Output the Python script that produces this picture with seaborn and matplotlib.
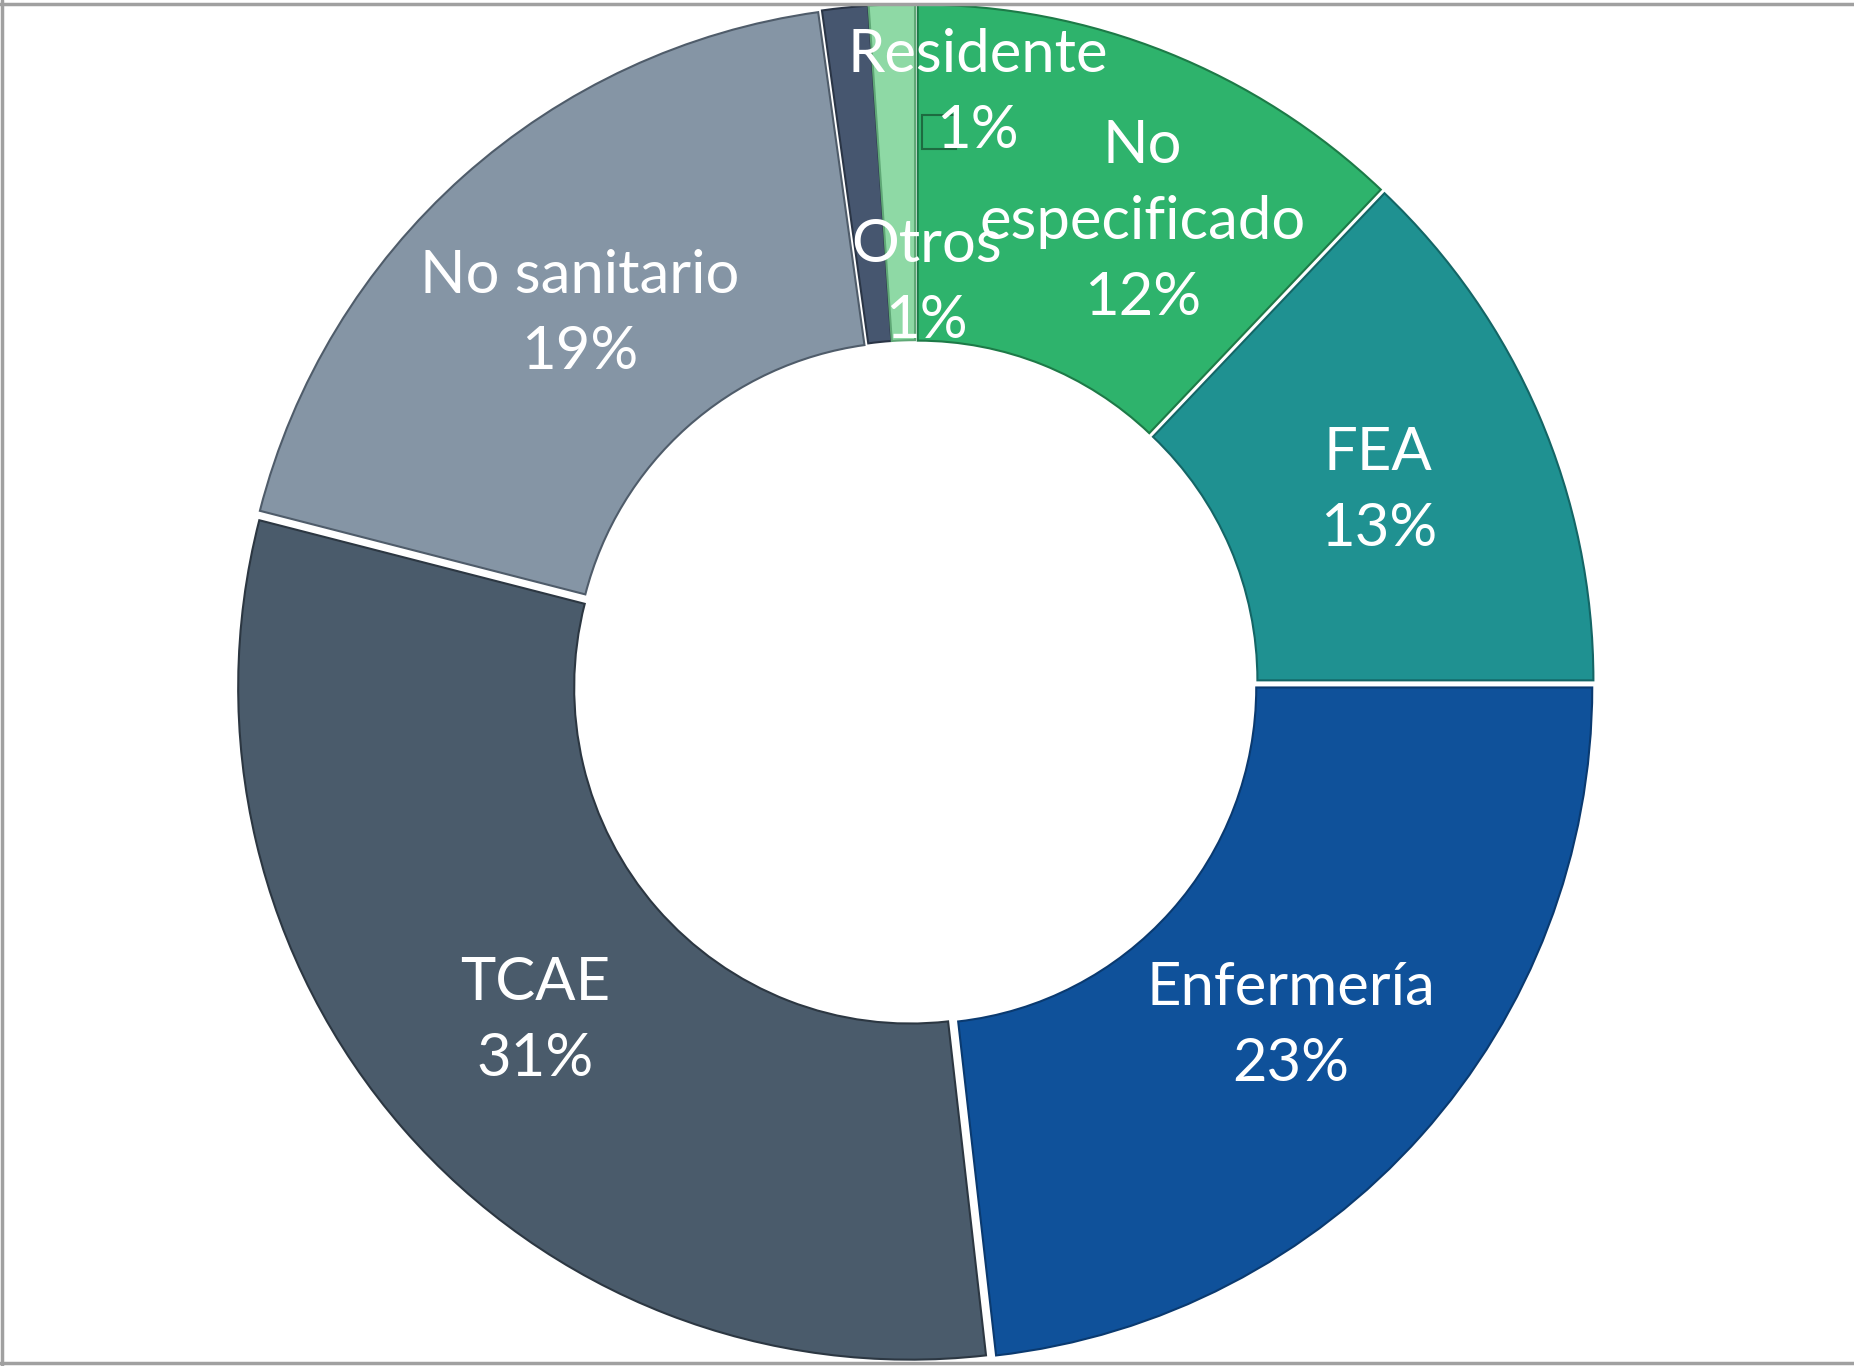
import numpy as np
import matplotlib
matplotlib.use("Agg")
import matplotlib.pyplot as plt
from matplotlib.lines import Line2D
from matplotlib.patches import Rectangle
import seaborn as sns

# categories in clockwise order from 12 o'clock
categories = ["No\nespecificado", "FEA", "Enfermería", "TCAE", "No sanitario", "Otros", "Residente"]
shares = [12.1, 12.9, 23.2, 30.8, 18.8, 1.1, 1.1]
pct_labels = ["12%", "13%", "23%", "31%", "19%", "1%", "1%"]

colors = ["#2EB36C", "#1F9191", "#0F519A", "#4A5B6B", "#8595A5", "#46566F", "#8ED9A5"]
edges = ["#1D7A47", "#146666", "#0A3A70", "#2C3742", "#4F5C6A", "#2A3546", "#5FA876"]

sns.set_theme(style="white")
plt.rcParams["font.family"] = ["Lato", "DejaVu Sans"]

fig = plt.figure(figsize=(18.54, 13.66), dpi=100)
ax = fig.add_axes([0, 0, 1, 1])

wedges, _ = ax.pie(shares, colors=colors, startangle=90, counterclock=False,
                   radius=1.0, explode=[0.01] * len(shares),
                   wedgeprops=dict(width=0.5, linewidth=1.5))
for w, ec in zip(wedges, edges):
    w.set_edgecolor(ec)

# label placement: mid-ring by default, a few moved by hand (as in the original)
label_shift = {0: (0.06, 0.0)}
manual_pos = {5: (0.017, 0.595), 6: (0.093, 0.878)}

for i, w in enumerate(wedges):
    txt = categories[i] + "\n" + pct_labels[i]
    if i in manual_pos:
        x, y = manual_pos[i]
    else:
        ang = np.deg2rad((w.theta1 + w.theta2) / 2)
        x, y = 0.75 * np.cos(ang), 0.75 * np.sin(ang) - 0.01
        if i in label_shift:
            x += label_shift[i][0]
            y += label_shift[i][1]
    ax.text(x, y, txt, ha="center", va="center", color="white",
            fontsize=43, linespacing=1.5, clip_on=False)

# little leftover leader box next to the "Residente" label
ax.add_patch(Rectangle((0.010, 0.795), 0.05, 0.05, facecolor="#2EB36C",
                       edgecolor="#1D6B40", linewidth=1.5, zorder=1.5))

ax.set_xlim(-1.362, 1.397)
ax.set_ylim(-1.016, 1.016)
ax.set_aspect("auto")
ax.axis("off")

# chart frame (top, left, bottom)
fc = "#A0A0A0"
fig.add_artist(Line2D([0, 1], [1 - 4 / 1366, 1 - 4 / 1366], color=fc, lw=2.5))
fig.add_artist(Line2D([2 / 1854, 2 / 1854], [0, 1], color=fc, lw=2.5))
fig.add_artist(Line2D([0, 1], [3 / 1366, 3 / 1366], color=fc, lw=2.5))

fig.savefig("out.png", dpi=100, facecolor="white")
